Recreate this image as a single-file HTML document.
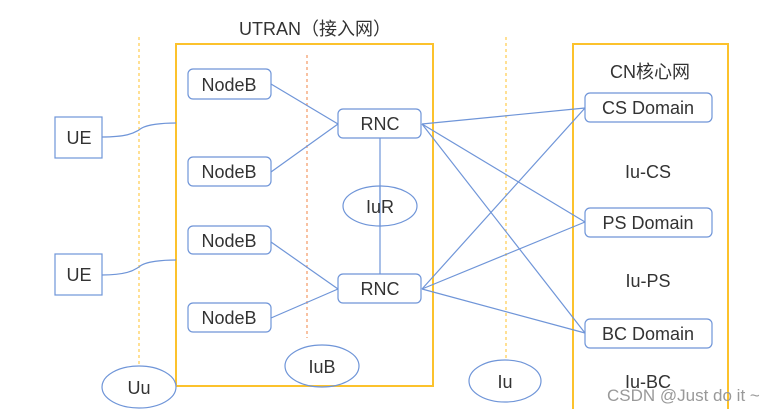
<!DOCTYPE html>
<html><head><meta charset="utf-8"><style>
body{margin:0;background:#fff;width:774px;height:409px;overflow:hidden}
text{font-family:"Liberation Sans","Noto Sans CJK SC",sans-serif;fill:#333}
</style></head><body>
<svg width="774" height="409" xmlns="http://www.w3.org/2000/svg">
<g stroke="#ffcf5a" stroke-width="1.3" stroke-dasharray="3,3">
<line x1="139" y1="37" x2="139" y2="366"/>
<line x1="506" y1="37" x2="506" y2="360"/>
</g>
<line x1="307" y1="55" x2="307" y2="338" stroke="#f4a070" stroke-width="1.3" stroke-dasharray="3,3"/>
<rect x="176" y="44" width="257" height="342" fill="none" stroke="#fcc22c" stroke-width="2"/>
<rect x="573" y="44" width="155" height="370" fill="none" stroke="#fcc22c" stroke-width="2"/>
<g stroke="#6f95d8" stroke-width="1.2" fill="none">
<path d="M102 137 C130 137 135 132 139 130 C145 124 165 123 176 123"/>
<path d="M102 275 C130 275 135 269 139 267 C145 261 165 260 176 260"/>
<line x1="271" y1="84" x2="338" y2="124"/><line x1="271" y1="172" x2="338" y2="124"/>
<line x1="271" y1="242" x2="338" y2="289"/><line x1="271" y1="318" x2="338" y2="289"/>
<line x1="380" y1="138" x2="380" y2="274"/>
<line x1="422" y1="124" x2="585" y2="108"/><line x1="422" y1="124" x2="585" y2="222"/><line x1="422" y1="124" x2="585" y2="333"/>
<line x1="422" y1="289" x2="585" y2="108"/><line x1="422" y1="289" x2="585" y2="222"/><line x1="422" y1="289" x2="585" y2="333"/>
<rect x="55" y="117" width="47" height="41"/><rect x="55" y="254" width="47" height="41"/>
<rect x="188" y="69" width="83" height="30" rx="5" fill="#fff"/>
<rect x="188" y="157" width="83" height="29" rx="5" fill="#fff"/>
<rect x="188" y="226" width="83" height="28" rx="5" fill="#fff"/>
<rect x="188" y="303" width="83" height="29" rx="5" fill="#fff"/>
<rect x="338" y="109" width="83" height="29" rx="5" fill="#fff"/>
<rect x="338" y="274" width="83" height="29" rx="5" fill="#fff"/>
<rect x="585" y="93" width="127" height="29" rx="5" fill="#fff"/>
<rect x="585" y="208" width="127" height="29" rx="5" fill="#fff"/>
<rect x="585" y="319" width="127" height="29" rx="5" fill="#fff"/>
<ellipse cx="380" cy="206" rx="37" ry="20"/>
<ellipse cx="322" cy="366" rx="37" ry="21"/>
<ellipse cx="139" cy="387" rx="37" ry="21" fill="#fff"/>
<ellipse cx="505" cy="381" rx="36" ry="21"/>
</g>
<line x1="380" y1="186" x2="380" y2="226" stroke="#6f95d8" stroke-width="1.2"/>
<g font-size="18" text-anchor="middle">
<text x="315" y="35">UTRAN（接入网）</text>
<text x="79" y="144">UE</text><text x="79" y="281">UE</text>
<text x="229" y="91">NodeB</text><text x="229" y="178">NodeB</text>
<text x="229" y="247">NodeB</text><text x="229" y="324">NodeB</text>
<text x="380" y="130">RNC</text><text x="380" y="295">RNC</text>
<text x="380" y="213">IuR</text><text x="322" y="373">IuB</text>
<text x="139" y="394">Uu</text><text x="505" y="388">Iu</text>
<text x="650" y="78">CN核心网</text>
<text x="648" y="114">CS Domain</text><text x="648" y="229">PS Domain</text><text x="648" y="340">BC Domain</text>
<text x="648" y="178">Iu-CS</text><text x="648" y="287">Iu-PS</text><text x="648" y="388">Iu-BC</text>
</g>
<text x="607" y="401" font-size="17" style="fill:#999">CSDN @Just do it ~</text>
</svg>
</body></html>
